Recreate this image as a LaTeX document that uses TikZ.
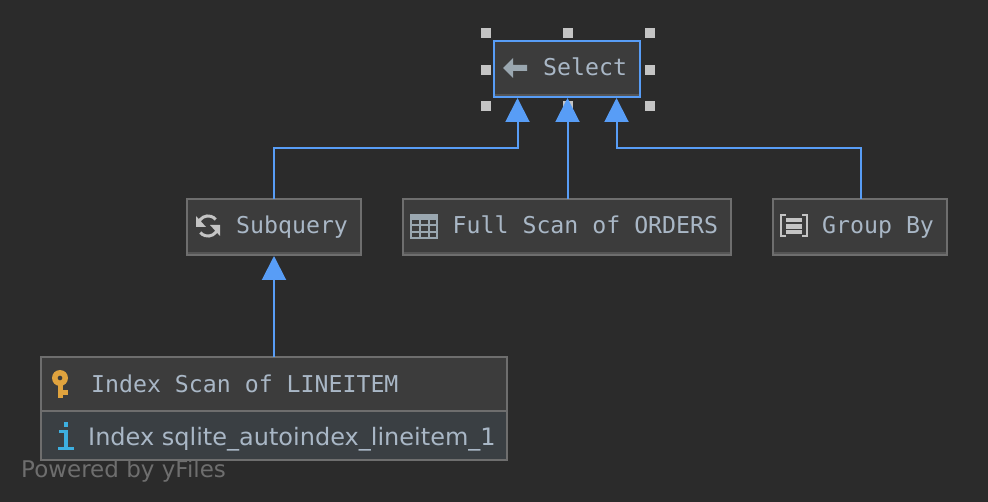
\documentclass[tikz,border=0pt]{standalone}
\usepackage{fontspec}
\setmainfont{DejaVu Sans}
\setmonofont{DejaVu Sans Mono}
\usetikzlibrary{arrows.meta,calc}
\definecolor{bgcol}{HTML}{2B2B2B}
\definecolor{boxcol}{HTML}{3C3C3C}
\definecolor{rowcol}{HTML}{3A3F43}
\definecolor{edgecol}{HTML}{6E6E6E}
\definecolor{bandcol}{HTML}{555555}
\definecolor{bluecol}{HTML}{589DF6}
\definecolor{textcol}{HTML}{A9B7C6}
\definecolor{iconcol}{HTML}{9AA7B0}
\definecolor{handlecol}{HTML}{C4C4C4}
\definecolor{keycol}{HTML}{E0A33E}
\definecolor{infocol}{HTML}{3DAFE0}
\tikzset{
	planbox/.style={draw=edgecol,line width=2pt,fill=boxcol,inner sep=0pt,outer sep=0pt,anchor=north west},
	planlabel/.style={anchor=base west,inner sep=0pt,text=textcol,font=\fontsize{23.2}{26}\selectfont\ttfamily},
	link/.style={draw=bluecol,line width=2pt,-{Triangle[width=24pt,length=24pt,fill=bluecol]},shorten >=1pt},
	handle/.style={fill=handlecol,draw=none,minimum size=10pt,inner sep=0pt}
}
\begin{document}
\begin{tikzpicture}[x=1pt,y=-1pt]
	\useasboundingbox[fill=bgcol] (0,0) rectangle (988,502);
	% handles round the selected node
	\foreach \x/\y [count=\i] in {486/33,568/33,650/33,486/70,650/70,486/106,568/106,650/106}
	{
		\node[handle] (handle\i) at (\x,\y) {};
	}
	% boxes
	\node[planbox,draw=bluecol,minimum width=146pt,minimum height=56pt] (select) at (494,41) {};
	\node[planbox,minimum width=174pt,minimum height=56pt] (subquery) at (187,199) {};
	\node[planbox,minimum width=328pt,minimum height=56pt] (orders) at (403,199) {};
	\node[planbox,minimum width=174pt,minimum height=56pt] (groupby) at (773,199) {};
	\node[planbox,minimum width=466pt,minimum height=103pt] (lineitem) at (41,357) {};
	\fill[rowcol] (42,412) rectangle (506,459);
	\draw[edgecol,line width=2pt] (41,411) -- (507,411);
	% darker band under each box
	\fill[bandcol] (495,94) rectangle (639,96);
	\fill[bandcol] (188,252) rectangle (360,254);
	\fill[bandcol] (404,252) rectangle (730,254);
	\fill[bandcol] (774,252) rectangle (946,254);
	% labels
	\node[planlabel] (selecttext) at (543,76) {Select};
	\node[planlabel] (subquerytext) at (236,234) {Subquery};
	\node[planlabel] (orderstext) at (452.5,234) {Full Scan of ORDERS};
	\node[planlabel] (groupbytext) at (822,234) {Group By};
	\node[planlabel] (scantext) at (91,392) {Index Scan of LINEITEM};
	\node[planlabel,font=\fontsize{24}{28}\selectfont] (indextext) at (88,446) {Index sqlite\_autoindex\_lineitem\_1};
	\node[anchor=base west,inner sep=0pt,text=edgecol,font=\fontsize{23}{26}\selectfont] (powered) at (21,477) {Powered by yFiles};
	% connectors
	\coordinate (selectA) at (517.5,97);
	\coordinate (selectB) at (567.5,97);
	\coordinate (selectC) at (616.5,97);
	\draw[link] (subquery.north) -- ++(0,-51) -| (selectA);
	\draw[link] (orders.north -| selectB) -- (selectB);
	\draw[link] (groupby.north) ++(0.5,0) -- ++(0,-51) -| (selectC);
	\draw[link] (lineitem.north -| subquery.south) -- (subquery.south);
	% select icon
	\fill[iconcol] (503,68) -- (513,58) -- (513,65) -- (527,65) -- (527,71) -- (513,71) -- (513,78) -- cycle;
	% subquery icon
	\draw[handlecol,line width=3pt] (198.5,223) arc (197:320:10);
	\draw[handlecol,line width=3pt] (217.5,229) arc (17:140:10);
	\fill[handlecol] (196,216) -- (196,227) -- (206,227) -- cycle;
	\fill[handlecol] (220,236) -- (220,225) -- (210,225) -- cycle;
	% table icon
	\fill[iconcol] (410,214) rectangle (438,219);
	\draw[iconcol,line width=1.5pt] (411,219) rectangle (437,238);
	\foreach \x in {420,429}
	{
		\draw[iconcol,line width=1.5pt] (\x,219) -- (\x,238);
	}
	\foreach \y in {225,232}
	{
		\draw[iconcol,line width=1.5pt] (411,\y) -- (437,\y);
	}
	% group icon
	\draw[handlecol,line width=2pt] (786,215) -- (781,215) -- (781,236) -- (786,236);
	\draw[handlecol,line width=2pt] (802,215) -- (807,215) -- (807,236) -- (802,236);
	\foreach \y in {218,224.5,230}
	{
		\fill[handlecol] (786,\y) rectangle (802,\y+4.5);
	}
	% key icon
	\fill[keycol,even odd rule] (60,378) circle (8) (60,378) circle (2.5);
	\fill[keycol] (58,384) rectangle (63,398);
	\fill[keycol] (63,390) rectangle (68,395);
	% info icon
	\fill[infocol] (64,422) rectangle (68,427);
	\fill[infocol] (59,430) rectangle (68,433);
	\fill[infocol] (64,430) rectangle (68,450);
	\fill[infocol] (58,447) rectangle (74,450);
\end{tikzpicture}
\end{document}
